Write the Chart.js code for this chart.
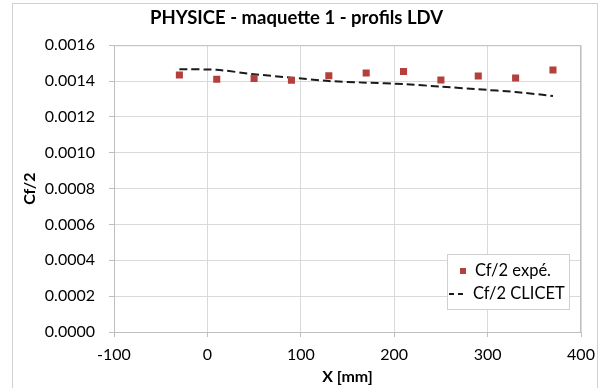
<!DOCTYPE html>
<html>
<head>
<meta charset="utf-8">
<script src="https://cdn.jsdelivr.net/npm/chart.js@4"></script>
<style>
  html, body { margin: 0; padding: 0; background: #fff; }
  #cf { display: block; }
</style>
</head>
<body>
<canvas id="cf" width="599" height="388"></canvas>
<script>
// positions x [mm]
const xExp = [-30, 10, 50, 90, 130, 170, 210, 250, 290, 330, 370];
// Cf/2 mesures LDV
const cfExp = [0.001434, 0.001410, 0.001415, 0.001404, 0.001430, 0.001445, 0.001453, 0.001406, 0.001428, 0.001417, 0.001462];
// Cf/2 calcul CLICET
const xCalc = [-30, 10, 50, 90, 130, 170, 210, 250, 290, 330, 370];
const cfCalc = [0.001466, 0.001463, 0.001438, 0.001419, 0.001400, 0.001391, 0.001383, 0.001369, 0.001354, 0.001339, 0.001317];

const FONT = 'Lato, "Liberation Sans", sans-serif';
const GRID = '#d9d9d9';

// cadre extérieur + bord de la zone de tracé
const frame = {
    id: 'frame',
    beforeDraw(chart) {
        const ctx = chart.ctx;
        ctx.save();
        ctx.strokeStyle = '#d0d0d0';
        ctx.lineWidth = 1;
        ctx.strokeRect(12.5, 3.5, 585, 400);
        ctx.restore();
    },
    afterDatasetsDraw(chart) {
        const a = chart.chartArea;
        const ctx = chart.ctx;
        ctx.save();
        ctx.strokeStyle = '#bfbfbf';
        ctx.lineWidth = 1;
        ctx.beginPath();
        ctx.moveTo(a.left + 0.5, a.bottom);
        ctx.lineTo(a.left + 0.5, a.top + 0.5);
        ctx.lineTo(a.right - 0.5, a.top + 0.5);
        ctx.lineTo(a.right - 0.5, a.bottom);
        ctx.stroke();
        ctx.restore();
    }
};

// légende dans la zone de tracé, en bas à droite
const boxLegend = {
    id: 'boxLegend',
    afterDraw(chart) {
        const a = chart.chartArea;
        const ctx = chart.ctx;
        const ds = chart.data.datasets;
        const w = 122, h = 55;
        const x0 = a.right - 12 - w, y0 = a.bottom - 23 - h;
        ctx.save();
        ctx.fillStyle = '#fff';
        ctx.fillRect(x0, y0, w, h);
        ctx.strokeStyle = '#d0d0d0';
        ctx.strokeRect(x0 + 0.5, y0 + 0.5, w, h);
        ctx.font = '16.5px ' + FONT;
        ctx.textBaseline = 'middle';
        // marqueur carré
        ctx.fillStyle = ds[0].backgroundColor;
        ctx.fillRect(x0 + 13, y0 + 14, 6, 6);
        ctx.fillStyle = '#000';
        ctx.fillText(ds[0].label, x0 + 28, y0 + 17);
        // trait pointillé
        ctx.strokeStyle = ds[1].borderColor;
        ctx.lineWidth = 2;
        ctx.setLineDash([5, 4]);
        ctx.beginPath();
        ctx.moveTo(x0 + 2, y0 + 40);
        ctx.lineTo(x0 + 20, y0 + 40);
        ctx.stroke();
        ctx.setLineDash([]);
        ctx.fillText(ds[1].label, x0 + 26, y0 + 40);
        ctx.restore();
    }
};

new Chart(document.getElementById('cf'), {
    type: 'scatter',
    data: {
        datasets: [
            {
                label: 'Cf/2 expé.',
                data: xExp.map((x, i) => ({ x: x, y: cfExp[i] })),
                pointStyle: 'rect',
                radius: 5,
                backgroundColor: '#b3403d',
                borderColor: '#b3403d',
                borderWidth: 0,
                showLine: false
            },
            {
                label: 'Cf/2 CLICET',
                data: xCalc.map((x, i) => ({ x: x, y: cfCalc[i] })),
                showLine: true,
                borderColor: '#1a1a1a',
                borderWidth: 2,
                borderDash: [8, 4],
                pointRadius: 0,
                tension: 0.2
            }
        ]
    },
    options: {
        responsive: false,
        animation: false,
        layout: { padding: { left: 12, right: 18, top: 0, bottom: 0 } },
        plugins: {
            legend: { display: false },
            tooltip: { enabled: false },
            title: {
                display: true,
                text: 'PHYSICE - maquette 1 - profils LDV',
                color: '#000',
                font: { family: FONT, size: 18.5, weight: 'bold' },
                padding: { top: 7, bottom: 16 }
            }
        },
        scales: {
            x: {
                type: 'linear',
                min: -100,
                max: 400,
                ticks: { stepSize: 100, color: '#000', font: { family: FONT, size: 16 }, padding: 8, maxRotation: 0 },
                grid: { color: GRID, borderDash: [2, 2], tickLength: 5, tickColor: '#bfbfbf', tickBorderDash: [] },
                border: { color: '#bfbfbf', dash: [] },
                title: { display: true, text: 'X [mm]', color: '#000', font: { family: FONT, size: 16, weight: 'bold' }, padding: { top: 0, bottom: 2 } },
                afterFit: s => { s.height = 56; s.paddingLeft = 0; s.paddingRight = 0; }
            },
            y: {
                min: 0,
                max: 0.0016,
                ticks: { stepSize: 0.0002, color: '#000', font: { family: FONT, size: 16 }, padding: 14, callback: v => v.toFixed(4) },
                grid: { color: GRID, borderDash: [2, 2], tickLength: 5, tickColor: '#bfbfbf', tickBorderDash: [] },
                border: { color: '#bfbfbf' },
                title: { display: true, text: 'Cf/2', color: '#000', font: { family: FONT, size: 16, weight: 'bold' }, padding: { top: 8 } },
                afterFit: s => { s.width = 102; }
            }
        }
    },
    plugins: [frame, boxLegend]
});
</script>
</body>
</html>
